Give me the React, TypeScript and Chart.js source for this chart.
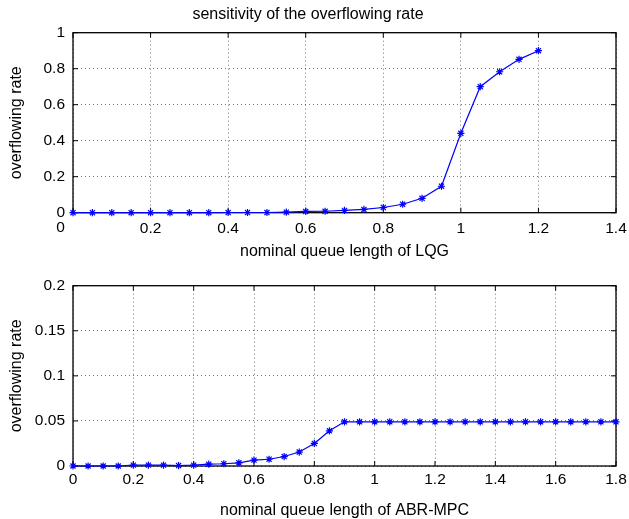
import React, { useEffect, useRef } from 'react';
import { Chart, registerables } from 'chart.js';

Chart.register(...registerables);

// ---------- data ----------
const topTitle = 'sensitivity of the overflowing rate';
const topXLabel = 'nominal queue length of LQG';
const bottomXLabel = 'nominal queue length of ABR-MPC';
const yLabel = 'overflowing rate';

const topX = [0, 0.05, 0.1, 0.15, 0.2, 0.25, 0.3, 0.35, 0.4, 0.45, 0.5, 0.55, 0.6, 0.65, 0.7, 0.75, 0.8, 0.85, 0.9, 0.95, 1.0, 1.05, 1.1, 1.15, 1.2];
const topY = [0, 0, 0, 0, 0, 0, 0, 0, 0.001, 0.001, 0.001, 0.003, 0.007, 0.008, 0.013, 0.018, 0.029, 0.047, 0.08, 0.147, 0.441, 0.7, 0.783, 0.852, 0.9];

const bottomX = [0, 0.05, 0.1, 0.15, 0.2, 0.25, 0.3, 0.35, 0.4, 0.45, 0.5, 0.55, 0.6, 0.65, 0.7, 0.75, 0.8, 0.85, 0.9, 0.95, 1.0, 1.05, 1.1, 1.15, 1.2, 1.25, 1.3, 1.35, 1.4, 1.45, 1.5, 1.55, 1.6, 1.65, 1.7, 1.75, 1.8];
const bottomY = [0, 0, 0, 0, 0.001, 0.001, 0.001, 0.0005, 0.001, 0.002, 0.0025, 0.0035, 0.0065, 0.0075, 0.0105, 0.0155, 0.025, 0.039, 0.049, 0.049, 0.049, 0.049, 0.049, 0.049, 0.049, 0.049, 0.049, 0.049, 0.049, 0.049, 0.049, 0.049, 0.049, 0.049, 0.049, 0.049, 0.049];

const topXRange = [0, 1.4];
const topXStep = 0.2;
const topYRange = [0, 1];
const topYStep = 0.2;
const bottomXRange = [0, 1.8];
const bottomXStep = 0.2;
const bottomYRange = [0, 0.2];
const bottomYStep = 0.05;

// ---------- style ----------
const FONT = '"Liberation Sans", Arial, Helvetica, sans-serif';
const TICK_SIZE = 15.5;
const LABEL_SIZE = 16;
const BLUE = '#0000ff';
const GRID = 'rgba(0,0,0,0.55)';

const fmt = (v: any) => {
  const n = Number(Number(v).toFixed(3));
  return String(n);
};

const boxPlugin = {
  id: 'matlabBox',
  beforeDatasetsDraw(chart: any) {
    const { ctx, chartArea } = chart;
    const { left, right, top, bottom } = chartArea;
    const xs = chart.scales.x;
    const ys = chart.scales.y;
    ctx.save();
    ctx.strokeStyle = '#000';
    ctx.lineWidth = 1.3;
    ctx.setLineDash([]);
    ctx.strokeRect(left, top, right - left, bottom - top);
    ctx.lineWidth = 1;
    const tl = 5;
    ctx.beginPath();
    xs.ticks.forEach((t: any) => {
      const px = xs.getPixelForValue(t.value);
      ctx.moveTo(px, bottom);
      ctx.lineTo(px, bottom - tl);
      ctx.moveTo(px, top);
      ctx.lineTo(px, top + tl);
    });
    ys.ticks.forEach((t: any) => {
      const py = ys.getPixelForValue(t.value);
      ctx.moveTo(left, py);
      ctx.lineTo(left + tl, py);
      ctx.moveTo(right, py);
      ctx.lineTo(right - tl, py);
    });
    ctx.stroke();
    ctx.restore();
  },
};

// the top plot draws its x "0" label shifted left of the axis origin
const zeroLabelPlugin = {
  id: 'zeroLabel',
  afterDraw(chart: any) {
    const opt = chart.options.plugins.zeroLabel;
    if (!opt || !opt.enabled) return;
    const xs = chart.scales.x;
    const { ctx } = chart;
    ctx.save();
    ctx.fillStyle = '#000';
    ctx.font = `${TICK_SIZE}px ${FONT}`;
    ctx.textAlign = 'center';
    ctx.textBaseline = 'top';
    ctx.fillText('0', xs.getPixelForValue(0) - 12.5, xs.top + opt.padding);
    ctx.restore();
  },
};

function buildConfig(p: {
  xs: number[]; ys: number[]; xRange: number[]; xStep: number; yRange: number[]; yStep: number;
  xLabel: string; title?: string; height: number; areaTop: number; areaBottom: number;
  xTickPad: number; hideZero?: boolean;
}) {
  const tickFont = { family: FONT, size: TICK_SIZE };
  const labelFont = { family: FONT, size: LABEL_SIZE, weight: 'normal' as const, lineHeight: 1 };
  return {
    type: 'line' as const,
    data: {
      datasets: [
        {
          data: p.xs.map((x, i) => ({ x, y: p.ys[i] })),
          borderColor: BLUE,
          backgroundColor: BLUE,
          borderWidth: 1.2,
          pointStyle: 'star',
          pointRadius: 3.6,
          pointBorderWidth: 1.2,
          pointBorderColor: BLUE,
          pointBackgroundColor: BLUE,
          tension: 0,
          clip: false,
        },
      ],
    },
    plugins: [boxPlugin, zeroLabelPlugin],
    options: {
      responsive: false,
      maintainAspectRatio: false,
      animation: false,
      devicePixelRatio: 1,
      layout: { padding: { left: 0, right: 13, top: p.title ? 0 : p.areaTop, bottom: 0 } },
      plugins: {
        legend: { display: false },
        tooltip: { enabled: false },
        zeroLabel: { enabled: !!p.hideZero, padding: p.xTickPad },
        title: p.title
          ? {
              display: true,
              text: p.title,
              color: '#000',
              font: { family: FONT, size: LABEL_SIZE, weight: 'normal', lineHeight: 1.2 },
              padding: { top: 5.4, bottom: p.areaTop - 5.4 - LABEL_SIZE * 1.2 },
            }
          : { display: false },
      },
      scales: {
        x: {
          type: 'linear',
          min: p.xRange[0],
          max: p.xRange[1],
          afterFit: (s: any) => {
            s.height = p.height - p.areaBottom;
            s.paddingLeft = 0;
            s.paddingRight = 0;
          },
          ticks: {
            stepSize: p.xStep,
            autoSkip: false,
            maxRotation: 0,
            padding: p.xTickPad,
            color: '#000',
            font: tickFont,
            callback: (v: any) => (p.hideZero && Number(v) === 0 ? '' : fmt(v)),
          },
          grid: { color: GRID, lineWidth: 1, drawTicks: false },
          border: { display: false, dash: [1, 3] },
          title: { display: true, text: p.xLabel, color: '#000', font: labelFont, padding: { top: 0, bottom: 0 } },
        },
        y: {
          type: 'linear',
          min: p.yRange[0],
          max: p.yRange[1],
          afterFit: (s: any) => {
            s.width = 73;
            s.paddingTop = 0;
            s.paddingBottom = 0;
          },
          ticks: {
            stepSize: p.yStep,
            autoSkip: false,
            padding: 8,
            color: '#000',
            font: tickFont,
            callback: (v: any) => fmt(v),
          },
          grid: { color: GRID, lineWidth: 1, drawTicks: false },
          border: { display: false, dash: [1, 3] },
          title: { display: true, text: yLabel, color: '#000', font: labelFont, padding: { top: 8.7, bottom: 0 } },
        },
      },
    },
  };
}

function PlotCanvas(props: { config: any; width: number; height: number; top: number }) {
  const ref = useRef<HTMLCanvasElement | null>(null);
  useEffect(() => {
    if (!ref.current) return;
    const chart = new Chart(ref.current, props.config);
    return () => chart.destroy();
  }, []);
  return (
    <canvas
      ref={ref}
      width={props.width}
      height={props.height}
      style={{ position: 'absolute', left: 0, top: props.top, width: props.width, height: props.height, display: 'block' }}
    />
  );
}

export default function App() {
  const topCfg = buildConfig({
    xs: topX, ys: topY, xRange: topXRange, xStep: topXStep, yRange: topYRange, yStep: topYStep,
    xLabel: topXLabel, title: topTitle, height: 260, areaTop: 32.7, areaBottom: 212.7, xTickPad: 6.8, hideZero: true,
  });
  const bottomCfg = buildConfig({
    xs: bottomX, ys: bottomY, xRange: bottomXRange, xStep: bottomXStep, yRange: bottomYRange, yStep: bottomYStep,
    xLabel: bottomXLabel, height: 259, areaTop: 25.7, areaBottom: 206, xTickPad: 4.5,
  });
  return (
    <div style={{ position: 'absolute', left: 0, top: 0, width: 629, height: 519, background: '#fff', overflow: 'hidden' }}>
      <PlotCanvas config={topCfg} width={629} height={260} top={0} />
      <PlotCanvas config={bottomCfg} width={629} height={259} top={260} />
    </div>
  );
}
